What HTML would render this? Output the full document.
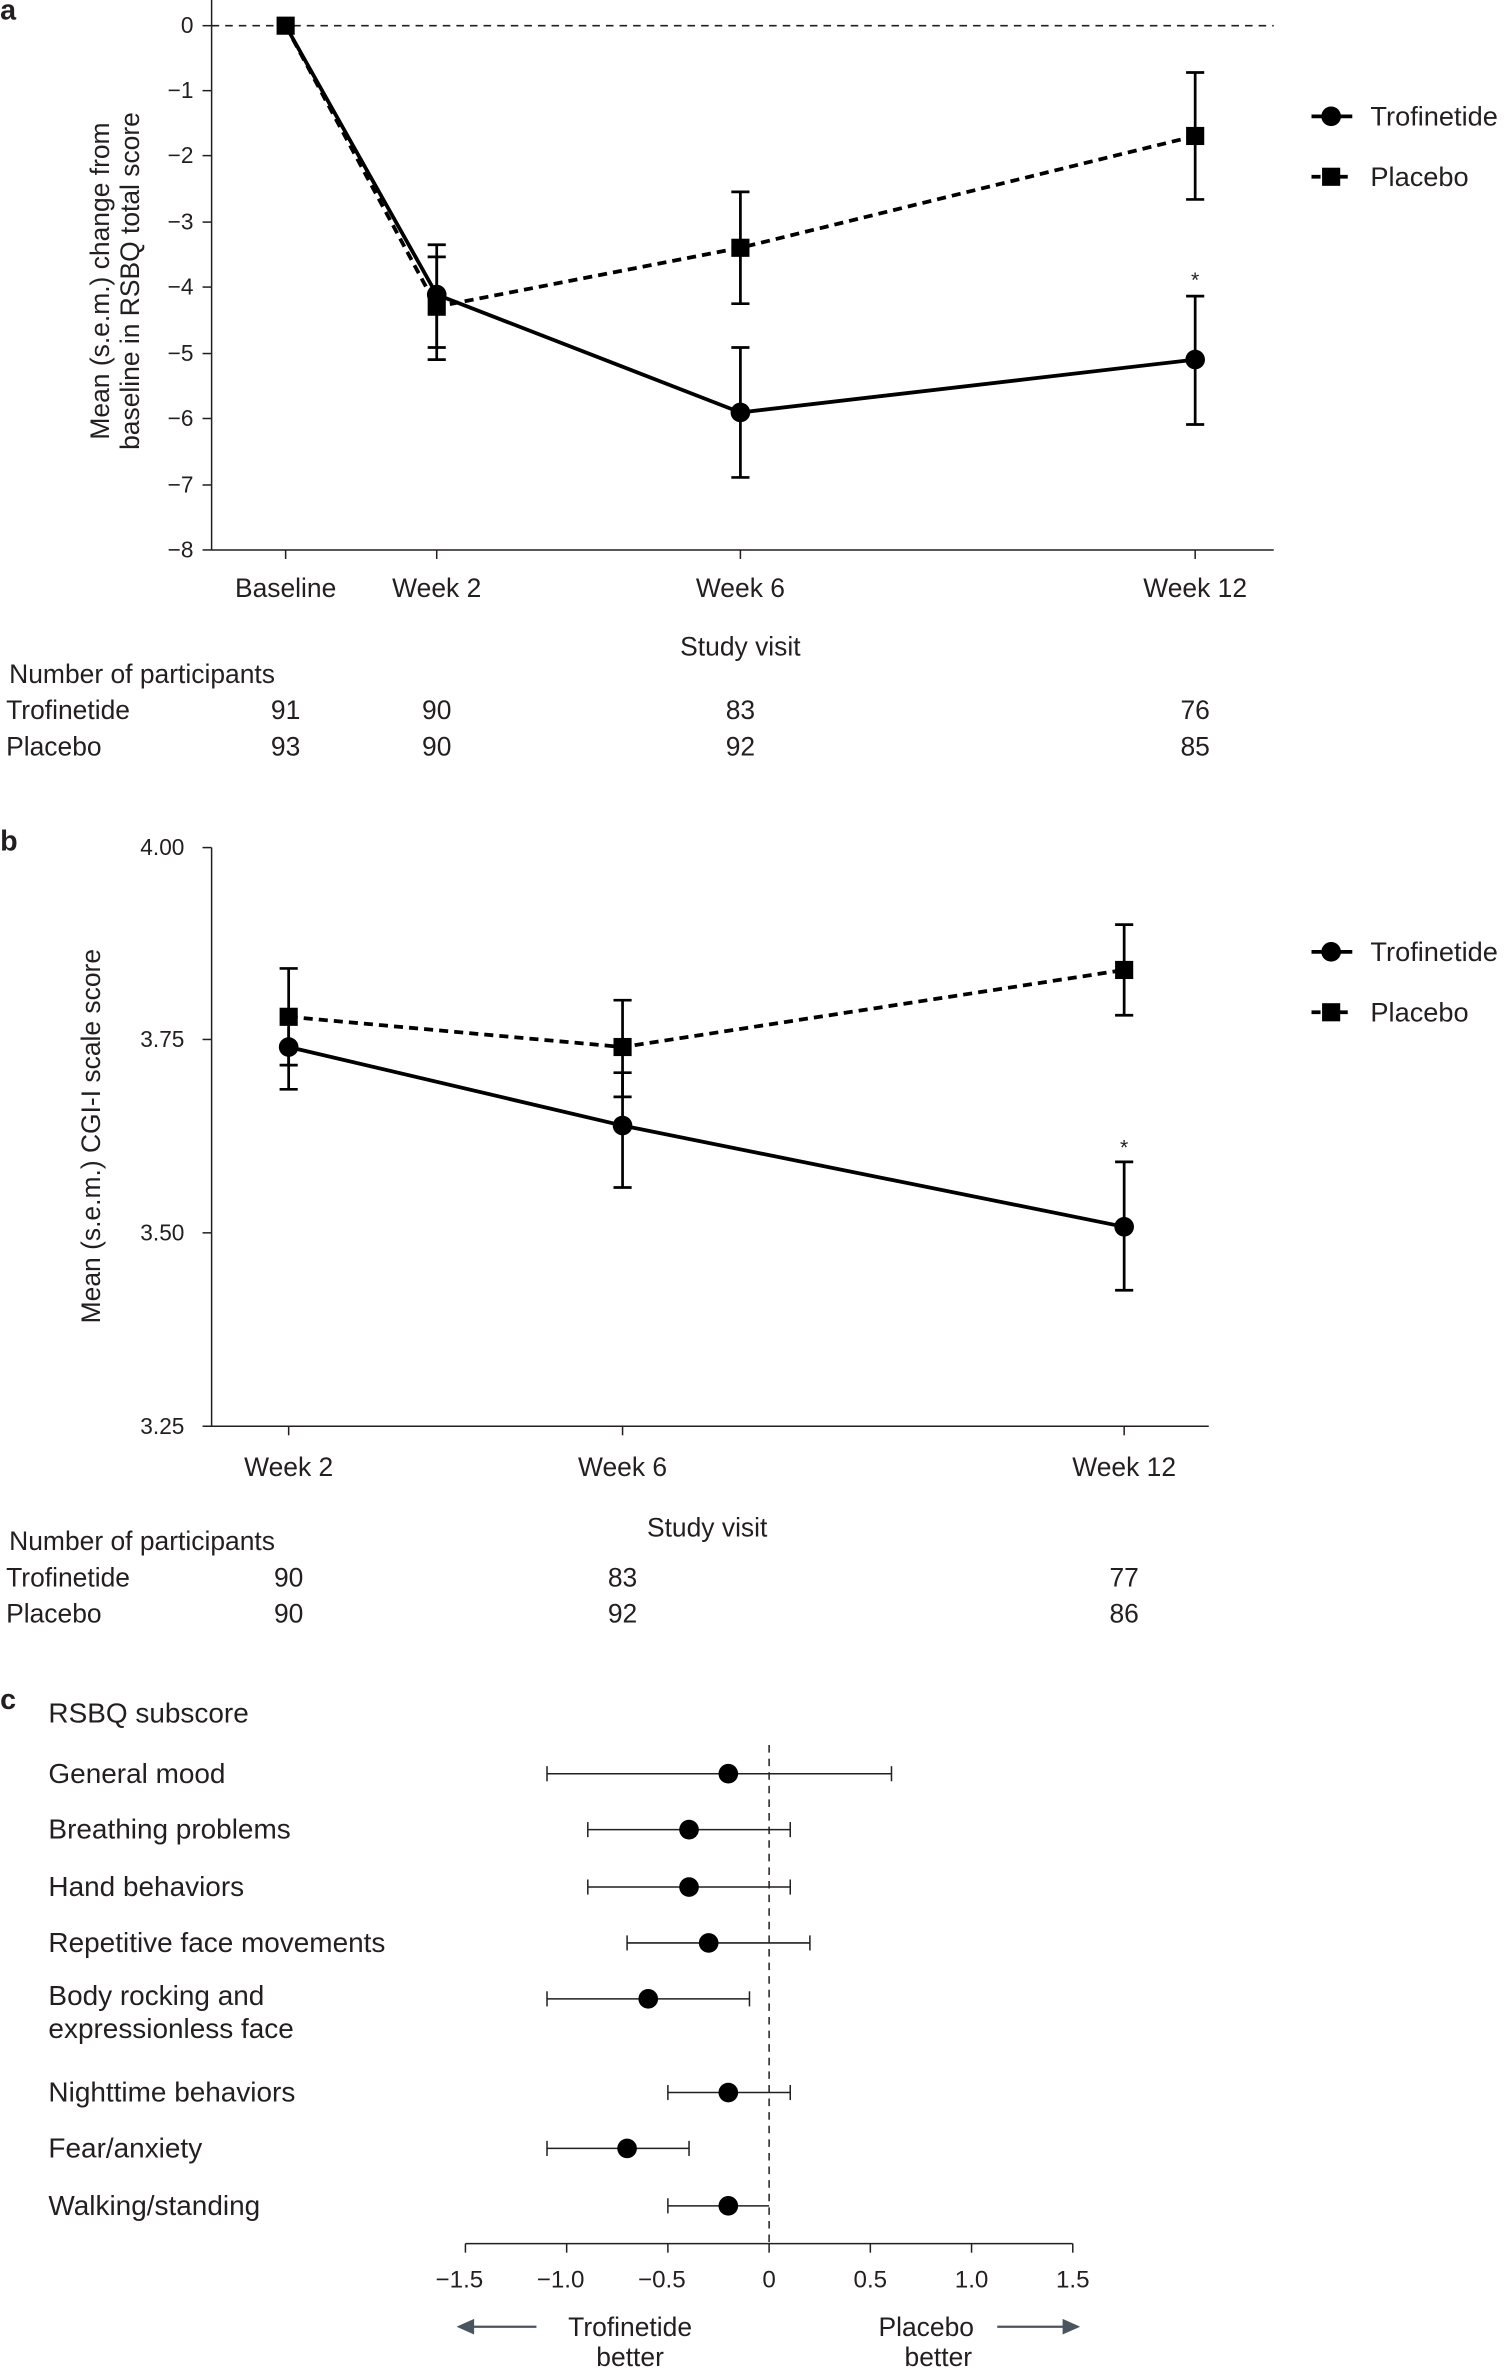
<!DOCTYPE html>
<html><head><meta charset="utf-8"><style>
html,body{margin:0;padding:0;background:#fff;}
svg{display:block;font-family:"Liberation Sans",sans-serif;}
</style></head><body>
<svg width="1508" height="2369" viewBox="0 0 998 1568" xmlns="http://www.w3.org/2000/svg">
<g fill="#231f20" stroke="none">
<text x="0" y="13" font-size="19" font-weight="bold">a</text>
<text x="0" y="563" font-size="19" font-weight="bold">b</text>
<text x="0" y="1131" font-size="19" font-weight="bold">c</text>
</g>
<!-- Panel a -->
<g stroke="#231f20" stroke-width="1" fill="none">
<line x1="140" y1="0" x2="140" y2="364"/>
<line x1="140" y1="364" x2="843" y2="364"/>
<line x1="140" y1="17" x2="843" y2="17" stroke-dasharray="5,4"/>
<g>
<line x1="134" y1="17" x2="140" y2="17"/><line x1="134" y1="60" x2="140" y2="60"/><line x1="134" y1="103" x2="140" y2="103"/><line x1="134" y1="147" x2="140" y2="147"/><line x1="134" y1="190" x2="140" y2="190"/><line x1="134" y1="234" x2="140" y2="234"/><line x1="134" y1="277" x2="140" y2="277"/><line x1="134" y1="321" x2="140" y2="321"/><line x1="134" y1="364" x2="140" y2="364"/>
<line x1="189" y1="364" x2="189" y2="370"/><line x1="289" y1="364" x2="289" y2="370"/><line x1="490" y1="364" x2="490" y2="370"/><line x1="791" y1="364" x2="791" y2="370"/>
</g>
</g>
<g font-size="15" fill="#231f20" text-anchor="end">
<text x="128" y="22">0</text><text x="128" y="65">−1</text><text x="128" y="108">−2</text><text x="128" y="152">−3</text><text x="128" y="195">−4</text><text x="128" y="239">−5</text><text x="128" y="282">−6</text><text x="128" y="326">−7</text><text x="128" y="369">−8</text>
</g>
<g font-size="17.5" fill="#231f20" text-anchor="middle">
<text transform="translate(72,186) rotate(-90)">Mean (s.e.m.) change from</text>
<text transform="translate(92,186) rotate(-90)">baseline in RSBQ total score</text>
<text x="189" y="395">Baseline</text><text x="289" y="395">Week 2</text><text x="490" y="395">Week 6</text><text x="791" y="395">Week 12</text>
<text x="490" y="434">Study visit</text>
<text x="189" y="476">91</text><text x="289" y="476">90</text><text x="490" y="476">83</text><text x="791" y="476">76</text>
<text x="189" y="500">93</text><text x="289" y="500">90</text><text x="490" y="500">92</text><text x="791" y="500">85</text>
<text x="791" y="190" font-size="14">*</text>
</g>
<g font-size="17.5" fill="#231f20">
<text x="6" y="452">Number of participants</text>
<text x="4" y="476">Trofinetide</text>
<text x="4" y="500">Placebo</text>
<text x="907" y="83" font-size="18">Trofinetide</text>
<text x="907" y="123" font-size="18">Placebo</text>
</g>
<g stroke="#000" stroke-width="2.5" fill="none">
<polyline points="189,17 289,203 490,164 791,90" stroke-dasharray="6,4"/>
<polyline points="189,17 289,195 490,273 791,238"/>
<line x1="868" y1="77" x2="895" y2="77"/>
<line x1="868" y1="117" x2="895" y2="117" stroke-dasharray="6,3"/>
</g>
<g stroke="#000" stroke-width="1.8">
<line x1="289" y1="162" x2="289" y2="230"/><line x1="283" y1="162" x2="295" y2="162"/><line x1="283" y1="230" x2="295" y2="230"/>
<line x1="289" y1="170" x2="289" y2="238"/><line x1="283" y1="170" x2="295" y2="170"/><line x1="283" y1="238" x2="295" y2="238"/>
<line x1="490" y1="230" x2="490" y2="316"/><line x1="484" y1="230" x2="496" y2="230"/><line x1="484" y1="316" x2="496" y2="316"/>
<line x1="490" y1="127" x2="490" y2="201"/><line x1="484" y1="127" x2="496" y2="127"/><line x1="484" y1="201" x2="496" y2="201"/>
<line x1="791" y1="48" x2="791" y2="132"/><line x1="785" y1="48" x2="797" y2="48"/><line x1="785" y1="132" x2="797" y2="132"/>
<line x1="791" y1="196" x2="791" y2="281"/><line x1="785" y1="196" x2="797" y2="196"/><line x1="785" y1="281" x2="797" y2="281"/>
</g>
<g fill="#000">
<rect x="183" y="11" width="12" height="12"/>
<rect x="283" y="197" width="12" height="12"/><rect x="484" y="158" width="12" height="12"/><rect x="785" y="84" width="12" height="12"/>
<circle cx="289" cy="195" r="6.5"/><circle cx="490" cy="273" r="6.5"/><circle cx="791" cy="238" r="6.5"/>
<circle cx="881" cy="77" r="6.5"/><rect x="875" y="111" width="12" height="12"/>
</g>
<!-- Panel b -->
<g stroke="#231f20" stroke-width="1" fill="none">
<line x1="140" y1="561" x2="140" y2="944"/>
<line x1="140" y1="944" x2="800" y2="944"/>
<line x1="134" y1="561" x2="140" y2="561"/><line x1="134" y1="688" x2="140" y2="688"/><line x1="134" y1="816" x2="140" y2="816"/><line x1="134" y1="944" x2="140" y2="944"/>
<line x1="191" y1="944" x2="191" y2="950"/><line x1="412" y1="944" x2="412" y2="950"/><line x1="744" y1="944" x2="744" y2="950"/>
</g>
<g font-size="15" fill="#231f20" text-anchor="end">
<text x="122" y="566">4.00</text><text x="122" y="693">3.75</text><text x="122" y="821">3.50</text><text x="122" y="949">3.25</text>
</g>
<g font-size="17.5" fill="#231f20" text-anchor="middle">
<text transform="translate(66,752) rotate(-90)">Mean (s.e.m.) CGI-I scale score</text>
<text x="191" y="977">Week 2</text><text x="412" y="977">Week 6</text><text x="744" y="977">Week 12</text>
<text x="468" y="1017">Study visit</text>
<text x="191" y="1050">90</text><text x="412" y="1050">83</text><text x="744" y="1050">77</text>
<text x="191" y="1074">90</text><text x="412" y="1074">92</text><text x="744" y="1074">86</text>
<text x="744" y="764" font-size="14">*</text>
</g>
<g font-size="17.5" fill="#231f20">
<text x="6" y="1026">Number of participants</text>
<text x="4" y="1050">Trofinetide</text>
<text x="4" y="1074">Placebo</text>
<text x="907" y="636" font-size="18">Trofinetide</text>
<text x="907" y="676" font-size="18">Placebo</text>
</g>
<g stroke="#000" stroke-width="2.5" fill="none">
<polyline points="191,673 412,693 744,642" stroke-dasharray="6,4"/>
<polyline points="191,693 412,745 744,812"/>
<line x1="868" y1="630" x2="895" y2="630"/>
<line x1="868" y1="670" x2="895" y2="670" stroke-dasharray="6,3"/>
</g>
<g stroke="#000" stroke-width="1.8">
<line x1="191" y1="641" x2="191" y2="705"/><line x1="185" y1="641" x2="197" y2="641"/><line x1="185" y1="705" x2="197" y2="705"/>
<line x1="191" y1="680" x2="191" y2="721"/><line x1="185" y1="721" x2="197" y2="721"/>
<line x1="412" y1="662" x2="412" y2="726"/><line x1="406" y1="662" x2="418" y2="662"/><line x1="406" y1="726" x2="418" y2="726"/>
<line x1="412" y1="710" x2="412" y2="786"/><line x1="406" y1="710" x2="418" y2="710"/><line x1="406" y1="786" x2="418" y2="786"/>
<line x1="744" y1="612" x2="744" y2="672"/><line x1="738" y1="612" x2="750" y2="612"/><line x1="738" y1="672" x2="750" y2="672"/>
<line x1="744" y1="769" x2="744" y2="854"/><line x1="738" y1="769" x2="750" y2="769"/><line x1="738" y1="854" x2="750" y2="854"/>
</g>
<g fill="#000">
<rect x="185" y="667" width="12" height="12"/><rect x="406" y="687" width="12" height="12"/><rect x="738" y="636" width="12" height="12"/>
<circle cx="191" cy="693" r="6.5"/><circle cx="412" cy="745" r="6.5"/><circle cx="744" cy="812" r="6.5"/>
<circle cx="881" cy="630" r="6.5"/><rect x="875" y="664" width="12" height="12"/>
</g>
<!-- Panel c -->
<g font-size="18.5" fill="#231f20">
<text x="32" y="1140">RSBQ subscore</text>
<text x="32" y="1180">General mood</text>
<text x="32" y="1217">Breathing problems</text>
<text x="32" y="1255">Hand behaviors</text>
<text x="32" y="1292">Repetitive face movements</text>
<text x="32" y="1327">Body rocking and</text>
<text x="32" y="1349">expressionless face</text>
<text x="32" y="1391">Nighttime behaviors</text>
<text x="32" y="1428">Fear/anxiety</text>
<text x="32" y="1466">Walking/standing</text>
</g>
<g stroke="#231f20" stroke-width="1" fill="none">
<line x1="509" y1="1155" x2="509" y2="1485" stroke-dasharray="5,4"/>
<line x1="308" y1="1485" x2="710" y2="1485"/>
<line x1="308" y1="1485" x2="308" y2="1491"/><line x1="375" y1="1485" x2="375" y2="1491"/><line x1="442" y1="1485" x2="442" y2="1491"/><line x1="509" y1="1485" x2="509" y2="1491"/><line x1="576" y1="1485" x2="576" y2="1491"/><line x1="643" y1="1485" x2="643" y2="1491"/><line x1="710" y1="1485" x2="710" y2="1491"/>
</g>
<g font-size="16" fill="#231f20" text-anchor="middle">
<text x="304" y="1514">−1.5</text><text x="371" y="1514">−1.0</text><text x="438" y="1514">−0.5</text><text x="509" y="1514">0</text><text x="576" y="1514">0.5</text><text x="643" y="1514">1.0</text><text x="710" y="1514">1.5</text>
</g>
<g font-size="17.5" fill="#231f20" text-anchor="middle">
<text x="417" y="1546">Trofinetide</text><text x="417" y="1566">better</text>
<text x="613" y="1546">Placebo</text><text x="621" y="1566">better</text>
</g>
<g stroke="#4a5560" stroke-width="1.5" fill="#4a5560">
<line x1="310" y1="1540" x2="355" y2="1540"/><polygon points="304,1540 313,1536 313,1544"/>
<line x1="660" y1="1540" x2="706" y2="1540"/><polygon points="713,1540 704,1536 704,1544"/>
</g>
<g stroke="#231f20" stroke-width="1">
<line x1="362" y1="1174" x2="590" y2="1174"/><line x1="362" y1="1169" x2="362" y2="1179"/><line x1="590" y1="1169" x2="590" y2="1179"/>
<line x1="389" y1="1211" x2="523" y2="1211"/><line x1="389" y1="1206" x2="389" y2="1216"/><line x1="523" y1="1206" x2="523" y2="1216"/>
<line x1="389" y1="1249" x2="523" y2="1249"/><line x1="389" y1="1244" x2="389" y2="1254"/><line x1="523" y1="1244" x2="523" y2="1254"/>
<line x1="415" y1="1286" x2="536" y2="1286"/><line x1="415" y1="1281" x2="415" y2="1291"/><line x1="536" y1="1281" x2="536" y2="1291"/>
<line x1="362" y1="1323" x2="496" y2="1323"/><line x1="362" y1="1318" x2="362" y2="1328"/><line x1="496" y1="1318" x2="496" y2="1328"/>
<line x1="442" y1="1385" x2="523" y2="1385"/><line x1="442" y1="1380" x2="442" y2="1390"/><line x1="523" y1="1380" x2="523" y2="1390"/>
<line x1="362" y1="1422" x2="456" y2="1422"/><line x1="362" y1="1417" x2="362" y2="1427"/><line x1="456" y1="1417" x2="456" y2="1427"/>
<line x1="442" y1="1460" x2="509" y2="1460"/><line x1="442" y1="1455" x2="442" y2="1465"/>
</g>
<g fill="#000">
<circle cx="482" cy="1174" r="6.5"/><circle cx="456" cy="1211" r="6.5"/><circle cx="456" cy="1249" r="6.5"/><circle cx="469" cy="1286" r="6.5"/><circle cx="429" cy="1323" r="6.5"/><circle cx="482" cy="1385" r="6.5"/><circle cx="415" cy="1422" r="6.5"/><circle cx="482" cy="1460" r="6.5"/>
</g>
</svg>
</body></html>
